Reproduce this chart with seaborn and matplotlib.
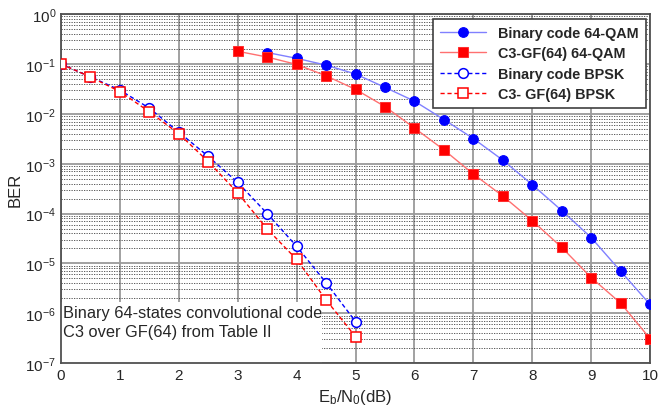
import matplotlib
matplotlib.use("Agg")
import matplotlib.pyplot as plt
import seaborn as sns
from matplotlib.patches import Rectangle
from matplotlib.ticker import LogLocator, MultipleLocator

# data
ebn0_qam_bin = [3.5, 4, 4.5, 5, 5.5, 6, 6.5, 7, 7.5, 8, 8.5, 9, 9.5, 10]
ber_qam_bin = [0.17, 0.13, 0.095, 0.063, 0.034, 0.018, 0.0077, 0.0032, 0.00118,
               3.8e-4, 1.15e-4, 3.3e-5, 7.0e-6, 1.5e-6]

ebn0_qam_c3 = [3, 3.5, 4, 4.5, 5, 5.5, 6, 6.5, 7, 7.5, 8, 8.5, 9, 9.5, 10]
ber_qam_c3 = [0.18, 0.138, 0.098, 0.058, 0.031, 0.014, 0.0052, 0.0019, 6.2e-4,
              2.25e-4, 7.2e-5, 2.1e-5, 5.2e-6, 1.6e-6, 3.1e-7]

ebn0_bpsk = [0, 0.5, 1, 1.5, 2, 2.5, 3, 3.5, 4, 4.5, 5]
ber_bpsk_bin = [0.1, 0.055, 0.03, 0.013, 0.0043, 0.0014, 4.2e-4, 1.0e-4, 2.2e-5, 4.1e-6, 6.8e-7]
ber_bpsk_c3 = [0.1, 0.055, 0.028, 0.011, 0.004, 0.0011, 2.6e-4, 4.9e-5, 1.2e-5, 1.85e-6, 3.4e-7]

labels = ["Binary code 64-QAM", "C3-GF(64) 64-QAM", "Binary code BPSK", "C3- GF(64) BPSK"]
note = "Binary 64-states convolutional code\nC3 over GF(64) from Table II"

sns.set_style("white")
plt.rcParams["font.family"] = ["Liberation Sans", "DejaVu Sans"]
plt.rcParams["mathtext.fontset"] = "custom"
plt.rcParams["mathtext.rm"] = "Liberation Sans"
plt.rcParams["mathtext.it"] = "Liberation Sans"
plt.rcParams["mathtext.default"] = "regular"

fig = plt.figure(figsize=(6.72, 4.10), dpi=100)
ax = fig.add_axes([0.0908, 0.112, 0.8765, 0.851])

sns.lineplot(x=ebn0_qam_bin, y=ber_qam_bin, ax=ax, color="#8080ff", lw=1,
             marker="o", markersize=7, markerfacecolor="#0000ff",
             markeredgecolor="#0000ff", label=labels[0], zorder=4)
sns.lineplot(x=ebn0_qam_c3, y=ber_qam_c3, ax=ax, color="#ff7070", lw=1,
             marker="s", markersize=7.5, markerfacecolor="#ff0000",
             markeredgecolor="#ff3030", label=labels[1], zorder=4)
sns.lineplot(x=ebn0_bpsk, y=ber_bpsk_bin, ax=ax, color="#0000ff", lw=1,
             linestyle=(0, (3, 2)), marker="o", markersize=7,
             markerfacecolor="white", markeredgecolor="#0000ff",
             markeredgewidth=1.1, label=labels[2], zorder=4)
sns.lineplot(x=ebn0_bpsk, y=ber_bpsk_c3, ax=ax, color="#ff0000", lw=1,
             linestyle=(0, (3, 2)), marker="s", markersize=7.5,
             markerfacecolor="white", markeredgecolor="#ff0000",
             markeredgewidth=1.1, label=labels[3], zorder=4)

ax.set_yscale("log")
ax.set_ylim(1e-7, 1)
ax.set_xlim(0, 10)
ax.xaxis.set_major_locator(MultipleLocator(1))
ax.xaxis.set_minor_locator(MultipleLocator(0.5))
ax.yaxis.set_major_locator(LogLocator(base=10, numticks=10))
ax.yaxis.set_minor_locator(LogLocator(base=10, subs=range(2, 10), numticks=20))

ax.grid(True, which="major", color="#9a9a9a", lw=1.3, ls="-")
ax.grid(True, which="minor", axis="y", color="#404040", lw=0.6, ls=(0, (1.5, 1.5)))
ax.set_axisbelow(True)

ax.tick_params(which="both", direction="in", labelsize=11, color="#404040")
ax.tick_params(which="major", length=4)
ax.tick_params(which="minor", length=2)
for s in ax.spines.values():
    s.set_color("#505050")
    s.set_linewidth(1.3)

ax.set_xlabel("E$_b$/N$_0$(dB)", fontsize=12, labelpad=4)
ax.set_ylabel("BER", fontsize=12, labelpad=2)

leg = ax.legend(loc="upper right", frameon=True, fancybox=False,
                borderaxespad=0.3, handlelength=3.2, borderpad=0.5,
                labelspacing=0.45, prop={"weight": "bold", "size": 10.4})
leg.get_frame().set_edgecolor("#404040")
leg.get_frame().set_linewidth(1.2)
leg.get_frame().set_alpha(1)
leg.set_zorder(10)

# white background behind the note, hiding the grid but not the spines
ax.add_patch(Rectangle((0, 0), 0.443, 0.175, transform=ax.transAxes,
                       facecolor="white", edgecolor="none", zorder=1))
ax.text(0.004, 0.166, note, transform=ax.transAxes, fontsize=11.8,
        va="top", ha="left", linespacing=1.3, zorder=6)

fig.savefig("out.png", dpi=100)
